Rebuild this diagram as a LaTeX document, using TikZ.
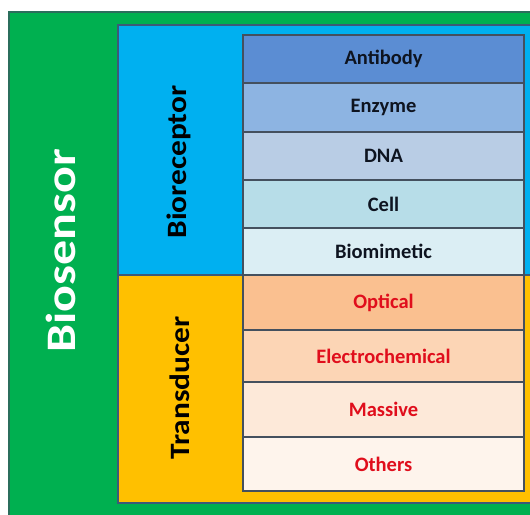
\documentclass[tikz,border=0pt]{standalone}
\usepackage{fontspec}
\setmainfont{Carlito}
\usepackage{graphicx}
\definecolor{bsgreen}{HTML}{00B050}
\definecolor{bsgreenedge}{HTML}{2B6E5C}
\definecolor{brblue}{HTML}{00B0F0}
\definecolor{tdorange}{HTML}{FFC000}
\definecolor{panedge}{HTML}{3C5A78}
\definecolor{celledge}{HTML}{44505E}
\definecolor{cAnti}{HTML}{5B8DD3}
\definecolor{cEnz}{HTML}{8DB4E2}
\definecolor{cDNA}{HTML}{B9CDE5}
\definecolor{cCell}{HTML}{B7DDE8}
\definecolor{cBio}{HTML}{DBEEF4}
\definecolor{cOpt}{HTML}{FAC090}
\definecolor{cElec}{HTML}{FCD5B5}
\definecolor{cMass}{HTML}{FDE9D9}
\definecolor{cOth}{HTML}{FEF4EC}
\definecolor{darktxt}{HTML}{0E1420}
\definecolor{redtxt}{HTML}{E00E1C}
\tikzset{
  cellbox/.style={draw=celledge, line width=1.1pt, minimum width=281pt, inner sep=0pt,
    font=\fontsize{20.5}{23}\selectfont\bfseries},
  bluecell/.style={cellbox, text=darktxt},
  redcell/.style={cellbox, text=redtxt},
  sidelabel/.style={anchor=base, rotate=90, inner sep=0pt, font=\fontsize{28}{30}\selectfont\bfseries, text=black}
}
\begin{document}
\begin{tikzpicture}[x=1pt,y=1pt]
\useasboundingbox (0,0) rectangle (530,514);
\clip (0,0) rectangle (530,514);
% outer green
\path[fill=bsgreen, draw=bsgreenedge, line width=2pt] (9,502) rectangle (545,-10);
% bioreceptor and transducer panels
\path[fill=brblue, draw=panedge, line width=1.4pt] (118,489) rectangle (545,239);
\path[fill=tdorange, draw=panedge, line width=1.4pt] (118,239) rectangle (545,11);
% table rows
\node[bluecell, fill=cAnti, minimum height=48pt] (anti) at (383.5,455) {Antibody};
\node[bluecell, fill=cEnz, minimum height=49pt] (enz) at (383.5,406.5) {Enzyme};
\node[bluecell, fill=cDNA, minimum height=48pt] (dna) at (383.5,358) {DNA};
\node[bluecell, fill=cCell, minimum height=48pt] (cell) at (383.5,310) {Cell};
\node[bluecell, fill=cBio, minimum height=47pt] (bio) at (383.5,262.5) {Biomimetic};
\node[redcell, fill=cOpt, minimum height=55pt] (opt) at (383.5,211.5) {Optical};
\node[redcell, fill=cElec, minimum height=52pt] (elec) at (383.5,158) {Electrochemical};
\node[redcell, fill=cMass, minimum height=55pt] (mass) at (383.5,104.5) {Massive};
\node[redcell, fill=cOth, minimum height=54pt] (oth) at (383.5,50) {Others};
% side labels
\node[sidelabel, font=\fontsize{42}{44}\selectfont\bfseries, text=white] (biosensor) at (75,263) {\scalebox{1.19}[1]{Biosensor}};
\node[sidelabel] (bioreceptor) at (186,352) {\scalebox{1.12}[1]{Bioreceptor}};
\node[sidelabel] (transducer) at (189,126) {\scalebox{1.12}[1]{Transducer}};
\end{tikzpicture}
\end{document}
